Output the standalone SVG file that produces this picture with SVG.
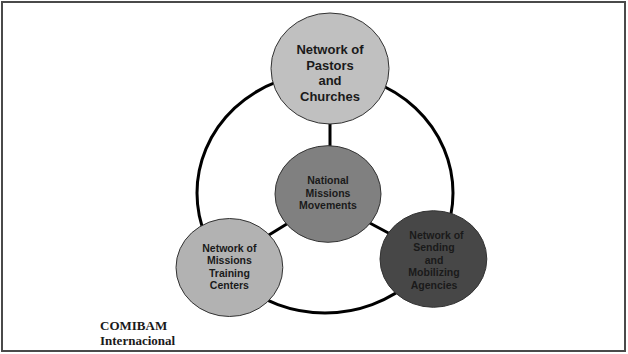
<svg xmlns="http://www.w3.org/2000/svg" width="628" height="354" viewBox="0 0 628 354">
<style>
.frame{fill:#fff;stroke:#4a4a4a;stroke-width:2}
.conn{fill:none;stroke:#000;stroke-width:3}
.node{stroke:#333;stroke-width:1}
.t{font-family:"Liberation Sans",Arial,sans-serif;font-weight:bold;text-anchor:middle;fill:#1a1a1a}
.big{font-size:13px}
.small{font-size:10.5px}
.serif{font-family:"Liberation Serif","Times New Roman",serif;font-weight:bold;font-size:13px;fill:#1a1a1a}
</style>
<rect class="frame" x="2" y="2" width="623" height="349"/>
<g id="connectors">
<ellipse class="conn" cx="325" cy="193" rx="128" ry="120" stroke-width="2.6"/>
<line class="conn" x1="330" y1="120" x2="330" y2="150"/>
<line class="conn" x1="290" y1="222" x2="264" y2="238"/>
<line class="conn" x1="366" y1="221" x2="394" y2="236"/>
</g>
<g id="node-pastors">
<ellipse class="node" cx="330" cy="68.5" rx="59" ry="55.5" fill="#c0c0c0"/>
<text class="t big" x="330" y="54">Network of</text>
<text class="t big" x="330" y="69.5">Pastors</text>
<text class="t big" x="330" y="85.2">and</text>
<text class="t big" x="330" y="101.2">Churches</text>
</g>
<g id="node-national">
<ellipse class="node" cx="328" cy="194" rx="53" ry="48.3" fill="#808080"/>
<text class="t small" x="328" y="184.4">National</text>
<text class="t small" x="328" y="197">Missions</text>
<text class="t small" x="328" y="208.7">Movements</text>
</g>
<g id="node-training">
<ellipse class="node" cx="229.4" cy="267.5" rx="53.4" ry="49" fill="#b2b2b2"/>
<text class="t small" x="229.4" y="252">Network of</text>
<text class="t small" x="229.4" y="263.7">Missions</text>
<text class="t small" x="229.4" y="277">Training</text>
<text class="t small" x="229.4" y="288.7">Centers</text>
</g>
<g id="node-sending">
<ellipse class="node" cx="433.4" cy="259" rx="53.4" ry="48.3" fill="#474747"/>
<text class="t small" x="436.5" y="238.7" fill="#111">Network of</text>
<text class="t small" x="434" y="251" fill="#111">Sending</text>
<text class="t small" x="434" y="263.7" fill="#111">and</text>
<text class="t small" x="434" y="276.4" fill="#111">Mobilizing</text>
<text class="t small" x="434" y="288.7" fill="#111">Agencies</text>
</g>
<g id="credit">
<text class="serif" x="100" y="329.5">COMIBAM</text>
<text class="serif" x="100" y="345">Internacional</text>
</g>
</svg>
